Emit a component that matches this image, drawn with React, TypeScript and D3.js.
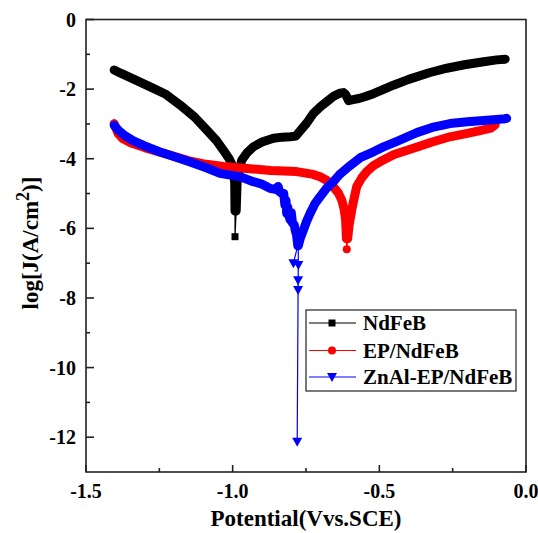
import * as d3 from "d3";
import { useEffect, useRef } from "react";

// NdFeB
const ndfebCathE = [-1.404, -1.38, -1.323, -1.27, -1.23, -1.18, -1.13, -1.088, -1.055, -1.032, -1.012, -0.998, -0.993, -0.992];
const ndfebCathJ = [-1.45, -1.55, -1.77, -1.98, -2.14, -2.45, -2.8, -3.18, -3.48, -3.75, -4.0, -4.25, -4.7, -5.5];
const ndfebTailE = [-0.992];
const ndfebTailJ = [-6.24];
const ndfebAnodE = [-0.988, -0.985, -0.978, -0.969, -0.95, -0.93, -0.9, -0.861, -0.83, -0.804, -0.785, -0.77, -0.748, -0.725, -0.7, -0.679, -0.655, -0.635, -0.622, -0.615, -0.605, -0.59, -0.57, -0.55, -0.52, -0.49, -0.45, -0.4, -0.33, -0.27, -0.21, -0.15, -0.1, -0.071];
const ndfebAnodJ = [-5.5, -4.7, -4.35, -4.04, -3.82, -3.66, -3.52, -3.41, -3.38, -3.37, -3.35, -3.2, -2.98, -2.7, -2.5, -2.36, -2.2, -2.12, -2.1, -2.15, -2.33, -2.3, -2.27, -2.22, -2.13, -2.02, -1.88, -1.72, -1.53, -1.4, -1.3, -1.22, -1.16, -1.14];

// EP/NdFeB
const epCathE = [-1.404, -1.398, -1.39, -1.375, -1.346, -1.3, -1.265, -1.2, -1.148, -1.09, -1.031, -0.952, -0.87, -0.782, -0.725, -0.702, -0.68, -0.657, -0.64, -0.628, -0.62, -0.615, -0.612];
const epCathJ = [-2.99, -3.12, -3.28, -3.42, -3.55, -3.68, -3.77, -3.93, -4.06, -4.16, -4.22, -4.28, -4.34, -4.37, -4.45, -4.52, -4.62, -4.8, -4.98, -5.19, -5.45, -5.76, -6.3];
const epTailE = [-0.611];
const epTailJ = [-6.6];
const epAnodE = [-0.608, -0.603, -0.594, -0.585, -0.577, -0.56, -0.543, -0.52, -0.498, -0.45, -0.384, -0.32, -0.259, -0.2, -0.145, -0.12, -0.105];
const epAnodJ = [-6.3, -5.9, -5.47, -5.1, -4.8, -4.55, -4.37, -4.2, -4.09, -3.88, -3.7, -3.52, -3.37, -3.27, -3.17, -3.12, -3.02];

// ZnAl-EP/NdFeB
const znCathE = [-1.404, -1.39, -1.369, -1.34, -1.3, -1.25, -1.206, -1.15, -1.09, -1.043, -0.973, -0.93, -0.903, -0.873, -0.855, -0.845, -0.84, -0.833, -0.826, -0.822, -0.818, -0.816, -0.812, -0.81, -0.804, -0.8, -0.796, -0.79, -0.787, -0.782, -0.778];
const znCathJ = [-3.04, -3.18, -3.33, -3.48, -3.63, -3.8, -3.92, -4.08, -4.26, -4.42, -4.52, -4.66, -4.72, -4.85, -4.88, -4.8, -4.95, -4.99, -5.0, -5.33, -5.2, -5.57, -5.4, -5.6, -5.76, -5.55, -5.85, -5.9, -6.05, -6.2, -6.5];
const znTailE = [-0.793, -0.776, -0.777, -0.777, -0.78];
const znTailJ = [-7.0, -7.05, -7.49, -7.77, -12.13];
const znAnodE = [-0.776, -0.77, -0.759, -0.748, -0.736, -0.72, -0.702, -0.68, -0.657, -0.635, -0.6, -0.565, -0.52, -0.486, -0.44, -0.372, -0.32, -0.259, -0.2, -0.145, -0.1, -0.071, -0.066];
const znAnodJ = [-6.5, -6.3, -6.05, -5.8, -5.57, -5.3, -5.09, -4.85, -4.66, -4.45, -4.2, -3.97, -3.8, -3.66, -3.5, -3.25, -3.1, -2.99, -2.94, -2.9, -2.87, -2.85, -2.84];

const seriesNames = ["NdFeB", "EP/NdFeB", "ZnAl-EP/NdFeB"];
const seriesColors = ["#000000", "#ff0000", "#0000ff"];

const xMajor = [-1.5, -1.0, -0.5, 0.0];
const xMajorLabels = ["-1.5", "-1.0", "-0.5", "0.0"];
const xMinor = [-1.25, -0.75, -0.25];
const yMajor = [0, -2, -4, -6, -8, -10, -12];
const yMajorLabels = ["0", "-2", "-4", "-6", "-8", "-10", "-12"];
const yMinor = [-1, -3, -5, -7, -9, -11];

const FONT = "'Times New Roman', 'Liberation Serif', serif";

function zip(e: number[], j: number[]) {
  return e.map((v, i) => [v, j[i]] as [number, number]);
}

export default function App() {
  const ref = useRef<SVGSVGElement>(null);

  useEffect(() => {
    const svg = d3.select(ref.current);
    svg.selectAll("*").remove();

    const x = d3.scaleLinear().domain([-1.5, 0]).range([86, 526]);
    const y = d3.scaleLinear().domain([0, -13]).range([19.5, 472]);

    const series = [
      { cath: zip(ndfebCathE, ndfebCathJ), tail: zip(ndfebTailE, ndfebTailJ), anod: zip(ndfebAnodE, ndfebAnodJ), shape: "square" },
      { cath: zip(epCathE, epCathJ), tail: zip(epTailE, epTailJ), anod: zip(epAnodE, epAnodJ), shape: "circle" },
      { cath: zip(znCathE, znCathJ), tail: zip(znTailE, znTailJ), anod: zip(znAnodE, znAnodJ), shape: "triangle" },
    ];

    const line = d3.line<[number, number]>().x(d => x(d[0])).y(d => y(d[1]));

    function marker(g: any, shape: string, cx: number, cy: number, color: string) {
      if (shape === "square") {
        g.append("rect").attr("x", cx - 3.5).attr("y", cy - 3.5).attr("width", 7).attr("height", 7).attr("fill", color);
      } else if (shape === "circle") {
        g.append("circle").attr("cx", cx).attr("cy", cy).attr("r", 4).attr("fill", color);
      } else {
        g.append("path")
          .attr("d", `M${cx - 5},${cy - 4}L${cx + 5},${cy - 4}L${cx},${cy + 5}Z`)
          .attr("fill", color);
      }
    }

    // curves
    series.forEach((s, i) => {
      const col = seriesColors[i];
      const g = svg.append("g");
      const full = s.cath.concat(s.tail, s.anod);
      g.append("path").attr("d", line(full)).attr("fill", "none").attr("stroke", col).attr("stroke-width", 1.2);
      [s.cath, s.anod].forEach(part => {
        g.append("path")
          .attr("d", line(part))
          .attr("fill", "none")
          .attr("stroke", col)
          .attr("stroke-width", 9)
          .attr("stroke-linejoin", "round")
          .attr("stroke-linecap", "round");
      });
      s.tail.forEach(p => marker(g, s.shape, x(p[0]), y(p[1]), col));
    });

    // frame
    svg.append("rect")
      .attr("x", 86).attr("y", 19.5).attr("width", 440).attr("height", 452.5)
      .attr("fill", "none").attr("stroke", "#222").attr("stroke-width", 1.6);

    // ticks
    xMajor.forEach((v, i) => {
      svg.append("line").attr("x1", x(v)).attr("x2", x(v)).attr("y1", 472).attr("y2", 465).attr("stroke", "#222").attr("stroke-width", 1.6);
      svg.append("text").attr("x", x(v)).attr("y", 498).attr("text-anchor", "middle")
        .style("font", `bold 20px ${FONT}`).text(xMajorLabels[i]);
    });
    xMinor.forEach(v => {
      svg.append("line").attr("x1", x(v)).attr("x2", x(v)).attr("y1", 472).attr("y2", 468).attr("stroke", "#222").attr("stroke-width", 1.6);
    });
    yMajor.forEach((v, i) => {
      svg.append("line").attr("x1", 86).attr("x2", 94).attr("y1", y(v)).attr("y2", y(v)).attr("stroke", "#222").attr("stroke-width", 1.6);
      svg.append("text").attr("x", 76).attr("y", y(v) + 7).attr("text-anchor", "end")
        .style("font", `bold 20px ${FONT}`).text(yMajorLabels[i]);
    });
    yMinor.forEach(v => {
      svg.append("line").attr("x1", 86).attr("x2", 90).attr("y1", y(v)).attr("y2", y(v)).attr("stroke", "#222").attr("stroke-width", 1.6);
    });

    // axis titles
    svg.append("text").attr("x", 306).attr("y", 526).attr("text-anchor", "middle")
      .style("font", `bold 23px ${FONT}`).text("Potential(Vvs.SCE)");
    const yl = svg.append("text")
      .attr("transform", "translate(38,243) rotate(-90)")
      .attr("text-anchor", "middle")
      .style("font", `bold 23px ${FONT}`);
    yl.append("tspan").text("log[J(A/cm");
    yl.append("tspan").attr("dy", -9).style("font-size", "18px").text("2");
    yl.append("tspan").attr("dy", 9).text(")]");

    // legend
    const lg = svg.append("g");
    lg.append("rect").attr("x", 306).attr("y", 310).attr("width", 210).attr("height", 81)
      .attr("fill", "white").attr("stroke", "#222").attr("stroke-width", 1.2);
    const rowY = [323, 350.5, 377];
    seriesNames.forEach((name, i) => {
      const col = seriesColors[i];
      lg.append("line").attr("x1", 309).attr("x2", 356).attr("y1", rowY[i]).attr("y2", rowY[i]).attr("stroke", col).attr("stroke-width", 1.2);
      marker(lg, series[i].shape, 332, rowY[i], col);
      lg.append("text").attr("x", 363).attr("y", rowY[i] + 7)
        .style("font", `bold 21px ${FONT}`).text(name);
    });
  }, []);

  return (
    <svg ref={ref} width={538} height={533}
      style={{ position: "absolute", left: 0, top: 0, background: "white" }} />
  );
}
